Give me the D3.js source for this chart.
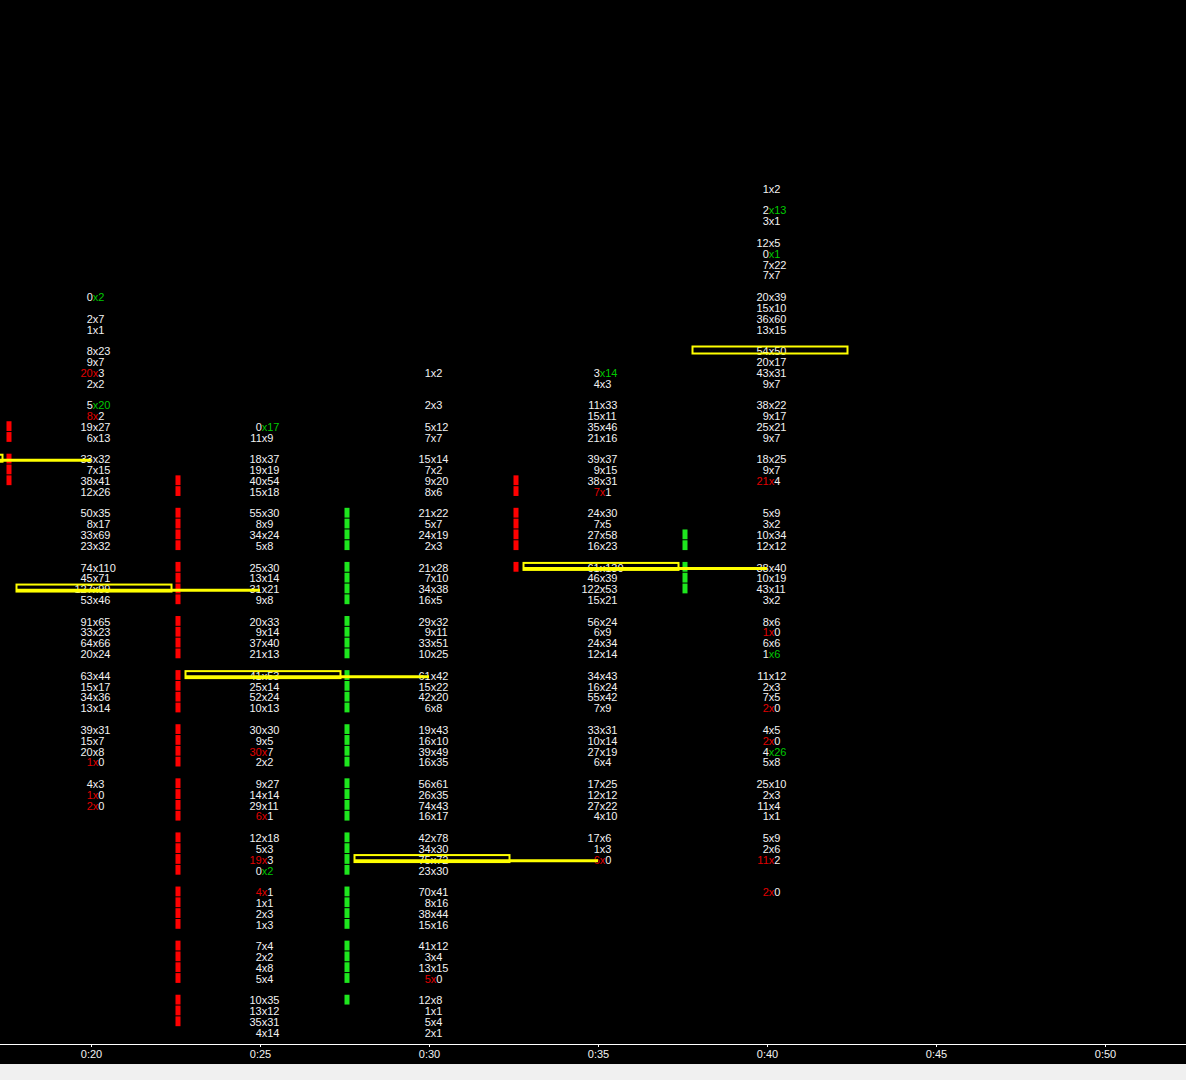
<!DOCTYPE html>
<html><head><meta charset="utf-8">
<script src="https://cdn.jsdelivr.net/npm/d3@7"></script>
<style>html,body{margin:0;padding:0;background:#f0f0f0;overflow:hidden} svg{display:block}</style>
</head><body><svg id="c" width="1186" height="1080"></svg>
<script>
// ---- data ----
const candleTimes = [15, 20, 25, 30, 35, 40];
const axisTicks = [20, 25, 30, 35, 40, 45, 50];
// [level, bid, ask, imbalance side ("b" = bid red, "a" = ask green)]
const col15 = [];
const col20 = [[10,0,2,"a"],[12,2,7],[13,1,1],[15,8,23],[16,9,7],[17,20,3,"b"],[18,2,2],[20,5,20,"a"],[21,8,2,"b"],[22,19,27],[23,6,13],[25,33,32],[26,7,15],[27,38,41],[28,12,26],[30,50,35],[31,8,17],[32,33,69],[33,23,32],[35,74,110],[36,45,71],[37,127,99],[38,53,46],[40,91,65],[41,33,23],[42,64,66],[43,20,24],[45,63,44],[46,15,17],[47,34,36],[48,13,14],[50,39,31],[51,15,7],[52,20,8],[53,1,0,"b"],[55,4,3],[56,1,0,"b"],[57,2,0,"b"]];
const col25 = [[22,0,17,"a"],[23,11,9],[25,18,37],[26,19,19],[27,40,54],[28,15,18],[30,55,30],[31,8,9],[32,34,24],[33,5,8],[35,25,30],[36,13,14],[37,31,21],[38,9,8],[40,20,33],[41,9,14],[42,37,40],[43,21,13],[45,41,53],[46,25,14],[47,52,24],[48,10,13],[50,30,30],[51,9,5],[52,30,7,"b"],[53,2,2],[55,9,27],[56,14,14],[57,29,11],[58,6,1,"b"],[60,12,18],[61,5,3],[62,19,3,"b"],[63,0,2,"a"],[65,4,1,"b"],[66,1,1],[67,2,3],[68,1,3],[70,7,4],[71,2,2],[72,4,8],[73,5,4],[75,10,35],[76,13,12],[77,35,31],[78,4,14]];
const col30 = [[17,1,2],[20,2,3],[22,5,12],[23,7,7],[25,15,14],[26,7,2],[27,9,20],[28,8,6],[30,21,22],[31,5,7],[32,24,19],[33,2,3],[35,21,28],[36,7,10],[37,34,38],[38,16,5],[40,29,32],[41,9,11],[42,33,51],[43,10,25],[45,61,42],[46,15,22],[47,42,20],[48,6,8],[50,19,43],[51,16,10],[52,39,49],[53,16,35],[55,56,61],[56,26,35],[57,74,43],[58,16,17],[60,42,78],[61,34,30],[62,75,72],[63,23,30],[65,70,41],[66,8,16],[67,38,44],[68,15,16],[70,41,12],[71,3,4],[72,13,15],[73,5,0,"b"],[75,12,8],[76,1,1],[77,5,4],[78,2,1]];
const col35 = [[17,3,14,"a"],[18,4,3],[20,11,33],[21,15,11],[22,35,46],[23,21,16],[25,39,37],[26,9,15],[27,38,31],[28,7,1,"b"],[30,24,30],[31,7,5],[32,27,58],[33,16,23],[35,61,130],[36,46,39],[37,122,53],[38,15,21],[40,56,24],[41,6,9],[42,24,34],[43,12,14],[45,34,43],[46,16,24],[47,55,42],[48,7,9],[50,33,31],[51,10,14],[52,27,19],[53,6,4],[55,17,25],[56,12,12],[57,27,22],[58,4,10],[60,17,6],[61,1,3],[62,6,0,"b"]];
const col40 = [[0,1,2],[2,2,13,"a"],[3,3,1],[5,12,5],[6,0,1,"a"],[7,7,22],[8,7,7],[10,20,39],[11,15,10],[12,36,60],[13,13,15],[15,54,50],[16,20,17],[17,43,31],[18,9,7],[20,38,22],[21,9,17],[22,25,21],[23,9,7],[25,18,25],[26,9,7],[27,21,4,"b"],[30,5,9],[31,3,2],[32,10,34],[33,12,12],[35,38,40],[36,10,19],[37,43,11],[38,3,2],[40,8,6],[41,1,0,"b"],[42,6,6],[43,1,6,"a"],[45,11,12],[46,2,3],[47,7,5],[48,2,0,"b"],[50,4,5],[51,2,0,"b"],[52,4,26,"a"],[53,5,8],[55,25,10],[56,2,3],[57,11,4],[58,1,1],[60,5,9],[61,2,6],[62,11,2,"b"],[65,2,0,"b"]];
const columns = [col15, col20, col25, col30, col35, col40];
const pocLevels = [25, 37, 45, 62, 35, 15];
const barSide = [null, "sell", "sell", "buy", "sell", "buy"];
const bars15 = [];
const bars20 = [22,23,25,26,27];
const bars25 = [27,28,30,31,32,33,35,36,37,38,40,41,42,43,45,46,47,48,50,51,52,53,55,56,57,58,60,61,62,63,65,66,67,68,70,71,72,73,75,76,77];
const bars30 = [30,31,32,33,35,36,37,38,40,41,42,43,45,46,47,48,50,51,52,53,55,56,57,58,60,61,62,63,65,66,67,68,70,71,72,73,75];
const bars35 = [27,28,30,31,32,33,35];
const bars40 = [32,33,35,36,37];
const barLevels = [bars15, bars20, bars25, bars30, bars35, bars40];

// ---- style ----
const W = 1186, H = 1080, plotBottom = 1064, axisY = 1044;
const FONT = "'Liberation Sans', Arial, sans-serif";
const TXT = "#f2f2f2", RED = "#e00000", GREEN = "#00c800";
const BAR_RED = "#ff0000", BAR_GREEN = "#1ee61e", POC = "#ffff00";

const svg = d3.select("#c");
svg.append("rect").attr("width", W).attr("height", H).attr("fill", "#f0f0f0");
svg.append("rect").attr("width", W).attr("height", plotBottom).attr("fill", "#000");

const x = d3.scaleLinear().domain([20, 50]).range([91, 1105]);
const y = d3.scaleLinear().domain([0, 78]).range([189, 1033]);
const colX = t => x(t) + 4.5;

// delta bars at left edge of each candle
candleTimes.forEach((t, i) => {
  svg.append("g").selectAll("rect").data(barLevels[i]).join("rect")
    .attr("x", colX(t) - 89)
    .attr("y", d => y(d) - 5.8)
    .attr("width", 5)
    .attr("height", 9.8)
    .attr("fill", barSide[i] === "buy" ? BAR_GREEN : BAR_RED);
});

// cell texts
const textG = svg.append("g").attr("font-family", FONT).attr("font-size", 11);
candleTimes.forEach((t, i) => {
  const cx = colX(t);
  columns[i].forEach(([lv, bid, ask, side]) => {
    const tx = textG.append("text").attr("y", y(lv)).attr("dy", "0.35em").attr("fill", TXT);
    const s1 = tx.append("tspan").text(bid).attr("fill", side === "b" ? RED : TXT);
    const s2 = tx.append("tspan").text("x").attr("fill", side === "b" ? RED : side === "a" ? GREEN : TXT);
    tx.append("tspan").text(ask).attr("fill", side === "a" ? GREEN : TXT);
    const w1 = s1.node().getComputedTextLength();
    const w2 = s2.node().getComputedTextLength();
    tx.attr("x", cx - w1 - w2 / 2);
  });
});

// POC boxes and extension lines
const pocG = svg.append("g");
candleTimes.forEach((t, i) => {
  const cx = colX(t), yy = y(pocLevels[i]);
  if (i < candleTimes.length - 1) {
    pocG.append("line")
      .attr("x1", cx - 79).attr("x2", x(candleTimes[i + 1]))
      .attr("y1", yy + 0.8).attr("y2", yy + 0.8)
      .attr("stroke", POC).attr("stroke-width", 3);
  }
  pocG.append("rect")
    .attr("x", cx - 79).attr("y", yy - 4.8)
    .attr("width", 155).attr("height", 7)
    .attr("fill", "none").attr("stroke", POC).attr("stroke-width", 2);
});

// time axis
const axis = d3.axisBottom(x).tickValues(axisTicks).tickFormat(d => "0:" + d).tickSize(3).tickSizeOuter(0);
const ax = svg.append("g").attr("transform", `translate(0,${axisY})`).call(axis);
ax.select(".domain").remove();
ax.append("line").attr("x1", 0).attr("x2", W).attr("y1", 0.5).attr("y2", 0.5).attr("stroke", "#fff");
ax.selectAll(".tick line").attr("stroke", "#fff");
ax.selectAll(".tick text").attr("fill", TXT).attr("font-family", FONT).attr("font-size", 11).attr("y", 6);
</script></body></html>
